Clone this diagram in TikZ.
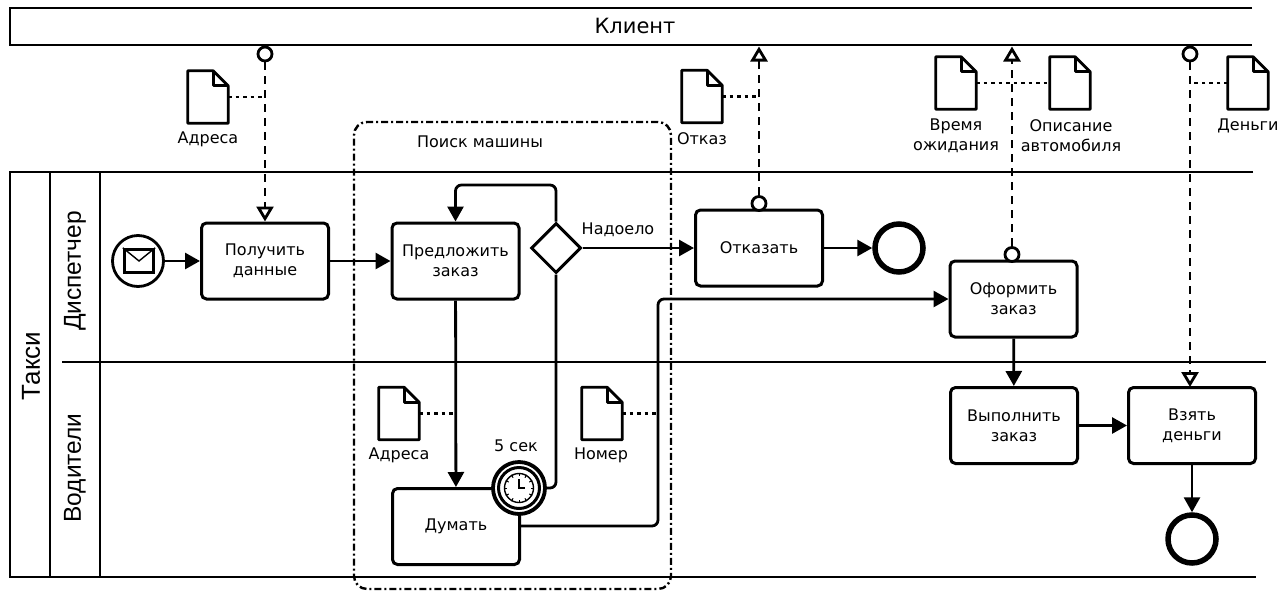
\documentclass[tikz,border=0pt]{standalone}
\usepackage{fontspec}
\setmainfont{DejaVu Sans}
\newfontfamily\lanefont{Liberation Sans}
\usetikzlibrary{arrows.meta,shapes.geometric,calc}
\tikzset{
  x=1pt,y=-1pt,
  lanes/.style={line width=2.8pt,draw=black},
  task/.style={draw,line width=3pt,rounded corners=5pt,minimum width=127pt,minimum height=76pt,inner sep=0pt,align=center,fill=white,font=\fontsize{16}{20}\selectfont},
  flowl/.style={line width=2.8pt,rounded corners=6pt,-{Triangle[length=15pt,width=16pt]}},
  flowplain/.style={line width=2.8pt,rounded corners=6pt},
  msgl/.style={line width=2.8pt,dash pattern=on 8pt off 6pt},
  msgin/.style={msgl,-{Triangle[open,length=15pt,width=17pt,fill=white,line width=2.8pt]}},
  msgc/.style={circle,draw,line width=2.8pt,fill=white,minimum size=14pt,inner sep=0pt},
  assoc/.style={line width=2.4pt,dash pattern=on 3.5pt off 4pt},
  docbox/.style={minimum width=40pt,minimum height=52pt,inner sep=0pt},
  lbl/.style={inner sep=0pt,align=center,font=\fontsize{16}{20}\selectfont},
  endev/.style={circle,draw,line width=5.5pt,minimum size=48pt,inner sep=0pt,fill=white},
  grp/.style={draw,line width=2.4pt,rounded corners=13pt,dash pattern=on 7pt off 3pt on 2pt off 3pt,minimum width=317pt,minimum height=467pt,inner sep=0pt},
  gate/.style={diamond,draw,line width=3pt,minimum width=50pt,minimum height=50pt,aspect=1,inner sep=0pt,fill=white},
  lanetext/.style={rotate=90,inner sep=0pt,font=\lanefont\fontsize{24.5}{28}\selectfont},
  pooltext/.style={rotate=90,inner sep=0pt,font=\lanefont\fontsize{26}{28}\selectfont}
}
\newcommand{\docshape}[3]{%
  \node[docbox] (#1) at (#2,#3) {};
  \draw[line width=2.8pt,line join=round,fill=white]
    ([yshift=0pt]#1.north west) -- ([xshift=-15pt]#1.north east) -- ([yshift=-15pt]#1.north east) -- (#1.south east) -- (#1.south west) -- cycle;
  \draw[line width=2.8pt,line join=round]
    ([xshift=-15pt]#1.north east) -- ([xshift=-15pt,yshift=-15pt]#1.north east) -- ([yshift=-15pt]#1.north east);
}
\begin{document}
\begin{tikzpicture}
\useasboundingbox (0,0) rectangle (1279,592);
% client pool
\node[inner sep=0pt,font=\fontsize{21}{24}\selectfont] (client) at (635,26) {Клиент};
\draw[lanes] (1252,8) -- (10,8) -- (10,45) -- (1252,45);
% lanes
\coordinate (tl) at (10,172); \coordinate (tr) at (1253,172);
\coordinate (bl) at (10,577); \coordinate (br) at (1256,577);
\draw[lanes] (tr) -- (tl) -- (bl) -- (br);
\coordinate (c1t) at (50,172); \coordinate (c1b) at (50,577);
\coordinate (c2t) at (100,172); \coordinate (c2b) at (100,577);
\coordinate (mid) at (62,362); \coordinate (midr) at (1266,362);
\draw[lanes] (c1t) -- (c1b);
\draw[lanes] (c2t) -- (c2b);
\draw[lanes] (mid) -- (midr);
\node[pooltext] (taxi) at (31,366) {Такси};
\node[lanetext] (disp) at (75,271) {Диспетчер};
\node[lanetext] (drv) at (75,468) {Водители};
% group
\node[grp] (group) at (512.5,355.5) {};
\node[lbl] (grouplabel) at (480,142) {Поиск машины};
% tasks
\node[task] (get) at (265,261) {Получить\\данные};
\node[task] (offer) at (455.5,261) {Предложить\\заказ};
\node[task] (refuse) at (759,248) {Отказать};
\node[task] (make) at (1013.5,299) {Оформить\\заказ};
\node[task] (run) at (1014,425.5) {Выполнить\\заказ};
\node[task] (take) at (1192,425.5) {Взять\\деньги};
\node[task] (think) at (456,526.5) {Думать};
\node[gate] (gw) at (556,248) {};
\node[lbl] (tired) at (618,230) {Надоело};
% start event
\node[circle,draw,line width=2.8pt,minimum size=51pt,inner sep=0pt] (start) at (138,261) {};
\node[draw,line width=3.4pt,minimum width=29pt,minimum height=23pt,inner sep=0pt] (env) at (139,261) {};
\draw[line width=1.4pt] (env.north west) -- (env.center) -- (env.north east);
% end events
\node[endev] (end1) at (899,248) {};
\node[endev] (end2) at (1192,539) {};
% sequence flows
\draw[flowl] (start) -- (get);
\draw[flowl] (get) -- (offer);
\draw[flowl] (gw.north) -- (556,185) -- (455.5,185) -- (offer.north);
\draw[flowl] (offer) -- (think);
\draw[flowl] (gw) -- (refuse);
\draw[flowl] (refuse) -- (end1);
\draw[flowl] (make) -- (run);
\draw[flowl] (run) -- (take);
\draw[flowl] (take) -- (end2);
\draw[flowl] (think.east |- 0,526) -- (658,526) -- (658,299) -- (make.west);
% timer
\node[circle,draw,line width=3.8pt,minimum size=52pt,inner sep=0pt,fill=white] (timer) at (519,488) {};
\node[circle,draw,line width=3pt,minimum size=41pt,inner sep=0pt,fill=white] (timerin) at (519,488) {};
\node[circle,draw,line width=1.4pt,minimum size=29pt,inner sep=0pt] (clock) at (519,488) {};
\foreach \a in {0,30,...,330}{\draw[line width=1pt] (clock.\a) -- ($(clock.center)!0.78!(clock.\a)$);}
\draw[line width=1.4pt] (clock.center) ++(0,-9) -- ++(0,9) -- ++(6,0);
\draw[flowplain] (gw.south) -- (556,488) -- (timer.east);
\node[lbl] (fivesec) at (516,446) {5 сек};
% data objects
\docshape{dA}{208}{97}
\node[lbl] (lA) at (208,139) {Адреса};
\docshape{dR}{702}{96.5}
\node[lbl] (lR) at (702,139) {Отказ};
\docshape{dW}{956}{83}
\node[lbl] (lW) at (956,136) {Время\\ожидания};
\docshape{dD}{1070}{83}
\node[lbl] (lD) at (1071,136) {Описание\\автомобиля};
\docshape{dM}{1248}{83}
\node[lbl] (lM) at (1248,126) {Деньги};
\docshape{dB}{399}{413.5}
\node[lbl] (lB) at (399,455) {Адреса};
\docshape{dN}{602}{413.5}
\node[lbl] (lN) at (601,455) {Номер};
% message flows
\node[msgc] (mA) at (265,54) {};
\draw[msgin] (mA) -- (get.north);
\node[msgc] (mR) at (759,203.5) {};
\coordinate (tR) at (759,46.5);
\draw[msgin] (mR) -- (tR);
\node[msgc] (mW) at (1012,254.5) {};
\coordinate (tW) at (1012,46.5);
\draw[msgin] (mW) -- (tW);
\node[msgc] (mM) at (1190,54) {};
\coordinate (tM) at (1190,387);
\draw[msgin] (mM) -- (tM);
% associations
\coordinate (jA) at (265,97);
\draw[assoc] (dA.east) -- (jA);
\coordinate (jR) at (759,96.5);
\draw[assoc] (dR.east) -- (jR);
\draw[assoc] (dW.east) -- (dD.west);
\coordinate (jM) at (1190,83);
\draw[assoc] (dM.west) -- (jM);
\coordinate (jB) at (455.5,413.5);
\draw[assoc] (dB.east) -- (jB);
\coordinate (jN) at (658,413.5);
\draw[assoc] (dN.east) -- (jN);
\end{tikzpicture}
\end{document}
